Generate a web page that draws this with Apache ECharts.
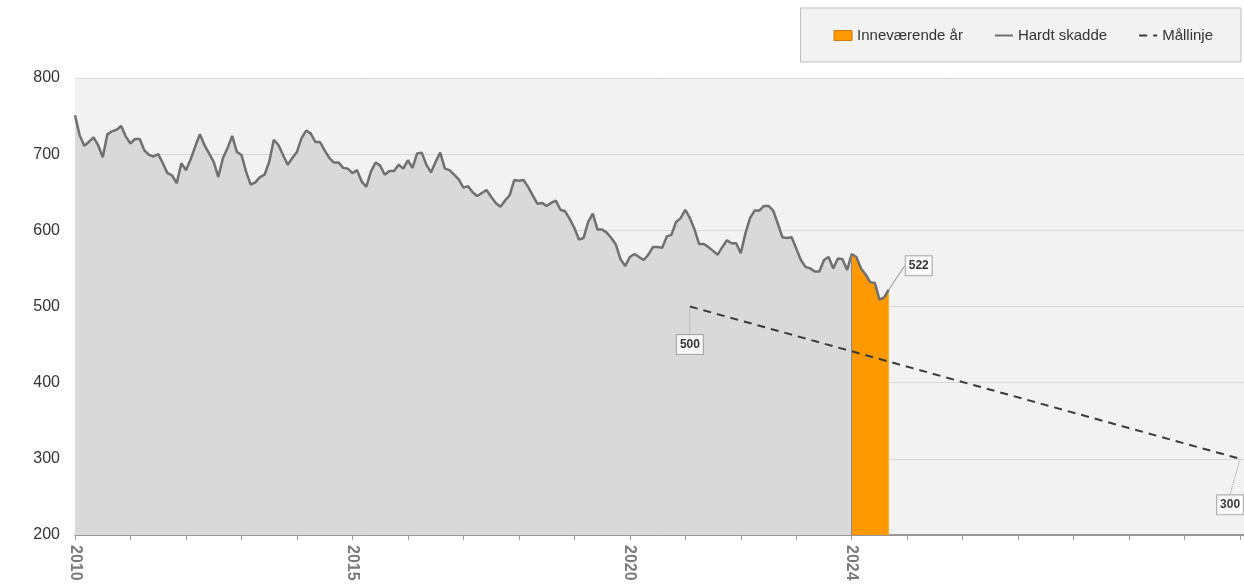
<!DOCTYPE html>
<html>
<head>
<meta charset="utf-8">
<script src="https://cdn.jsdelivr.net/npm/echarts@6/dist/echarts.min.js"></script>
<style>
html,body{margin:0;padding:0;background:#fff;}
#chart{width:1244px;height:588px;}
</style>
</head>
<body>
<div id="chart"></div>
<script>
// Monthly values from January 2010
const startYear = 2010;
const values = [
  751,725,711,716,722,712,696,726,730,732,737,723,
  714,720,720,705,699,697,700,688,675,672,662,688,
  679,693,710,726,712,701,690,670,695,708,724,703,
  699,677,660,663,670,673,690,719,712,699,686,695,
  703,721,731,727,716,716,705,695,689,689,682,681,
  675,679,664,657,677,689,685,673,678,678,686,681,
  692,682,701,702,686,676,690,702,681,679,673,667,
  656,658,650,645,649,653,644,636,631,639,646,666,
  665,666,657,646,635,636,632,636,639,627,625,615,
  603,588,590,611,622,601,601,597,590,581,562,553,
  565,569,565,561,568,578,578,577,592,594,611,616,
  627,616,601,582,582,578,573,568,578,587,583,583,
  570,596,616,626,626,632,632,626,609,591,590,591,
  576,561,552,550,546,546,561,565,550,563,562,548,
  569,565,550,542,532,531,509,512,522
];
const currentYear = 2024;
const targetYears = [2021.083, 2031];
const targetValues = [500, 300];
const labeledYears = [2010, 2015, 2020, 2024];
const seriesNames = ['Inneværende år', 'Hardt skadde', 'Mållinje'];

const points = values.map((v, i) => [startYear + i / 12, v]);
const currentPoints = points.filter(p => p[0] >= currentYear - 1e-9);
const targetPoints = targetYears.map((y, i) => [y, targetValues[i]]);
const lastPoint = points[points.length - 1];

const boxLabel = {
  show: true,
  position: 'inside',
  formatter: p => String(p.value[1]),
  backgroundColor: '#ffffff',
  borderColor: '#9a9a9a',
  borderWidth: 1,
  padding: [7, 3, 0, 3],
  color: '#000',
  fontWeight: 'bold',
  fontSize: 12,
  fontFamily: 'Liberation Sans, Arial, sans-serif'
};
const labelOffsets = [[0, 38], [-10, 46], [30, -24]];
const labelPoints = [
  {value: targetPoints[0], labelLine: {show: true, lineStyle: {color: '#999', type: 'dotted', width: 1}}},
  {value: targetPoints[1], labelLine: {show: true, lineStyle: {color: '#999', type: 'dotted', width: 1}}},
  {value: lastPoint, labelLine: {show: true, lineStyle: {color: '#888', type: 'solid', width: 1}}}
];

const chart = echarts.init(document.getElementById('chart'), null, {renderer: 'canvas'});
chart.setOption({
  animation: false,
  backgroundColor: '#ffffff',
  legend: {
    right: 3,
    top: 8,
    backgroundColor: '#f2f2f2',
    borderColor: '#bfbfbf',
    borderWidth: 1,
    borderRadius: 0,
    padding: [20, 28, 19, 33],
    itemGap: 31,
    itemWidth: 18,
    itemHeight: 10,
    textStyle: {fontSize: 15, color: '#333', fontFamily: 'Liberation Sans, Arial, sans-serif'},
    data: [
      {name: seriesNames[0], icon: 'rect', itemStyle: {borderColor: '#d07a00', borderWidth: 1}},
      {name: seriesNames[1], itemStyle: {opacity: 0}},
      {name: seriesNames[2], itemStyle: {opacity: 0}}
    ]
  },
  grid: {
    left: 75, right: 0, top: 78, bottom: 53,
    show: true, backgroundColor: '#f2f2f2', borderWidth: 0
  },
  xAxis: {
    type: 'value',
    min: 2010,
    max: 2031.07,
    interval: 1,
    axisLine: {show: true, lineStyle: {color: '#808080', width: 1.5}},
    axisTick: {show: true, length: 5, lineStyle: {color: '#9a9a9a'}},
    splitLine: {show: false},
    axisLabel: {
      rotate: -90,
      margin: 10,
      fontSize: 16,
      fontWeight: 'bold',
      color: '#7a7a7a',
      fontFamily: 'Liberation Sans, Arial, sans-serif',
      showMaxLabel: false,
      formatter: v => labeledYears.indexOf(Math.round(v)) >= 0 && Math.abs(v - Math.round(v)) < 1e-6 ? String(Math.round(v)) : ''
    }
  },
  yAxis: {
    type: 'value',
    min: 200,
    max: 800,
    interval: 100,
    axisLine: {show: false},
    axisTick: {show: false},
    splitLine: {show: true, lineStyle: {color: '#d9d9d9', width: 1}},
    axisLabel: {
      margin: 15,
      fontSize: 16,
      color: '#333',
      fontFamily: 'Liberation Sans, Arial, sans-serif'
    }
  },
  series: [
    {
      name: 'area',
      type: 'line',
      data: points,
      symbol: 'none',
      lineStyle: {width: 0},
      areaStyle: {color: '#d9d9d9', opacity: 1},
      z: 1,
      silent: true
    },
    {
      name: seriesNames[0],
      type: 'line',
      data: currentPoints,
      symbol: 'none',
      color: '#ff9900',
      lineStyle: {width: 0},
      areaStyle: {color: '#ff9900', opacity: 1},
      z: 2,
      markLine: {
        silent: true,
        symbol: 'none',
        label: {show: false},
        lineStyle: {color: '#8a8a8a', width: 1, type: 'solid'},
        data: [[{coord: [currentPoints[0][0], 200]}, {coord: currentPoints[0]}]]
      }
    },
    {
      name: seriesNames[1],
      type: 'line',
      data: points,
      symbol: 'none',
      color: '#707070',
      lineStyle: {color: '#707070', width: 2.5},
      z: 3
    },
    {
      name: seriesNames[2],
      type: 'line',
      data: targetPoints,
      symbol: 'none',
      color: '#3a3a3a',
      lineStyle: {color: '#3a3a3a', width: 2, type: [8, 6]},
      z: 4
    },
    {
      name: 'labels',
      type: 'scatter',
      data: labelPoints,
      symbolSize: 0.1,
      itemStyle: {color: 'rgba(0,0,0,0)'},
      label: boxLabel,
      labelLayout: p => ({dx: labelOffsets[p.dataIndex][0], dy: labelOffsets[p.dataIndex][1]}),
      z: 5
    }
  ]
});
</script>
</body>
</html>
